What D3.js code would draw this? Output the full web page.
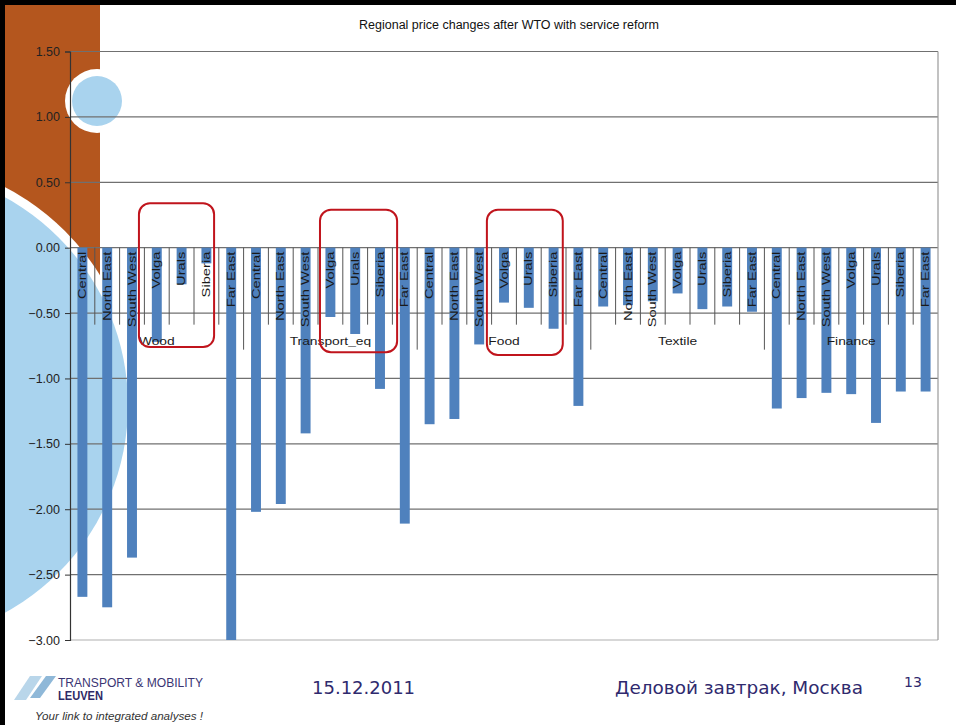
<!DOCTYPE html>
<html>
<head>
<meta charset="utf-8">
<script src="https://cdn.jsdelivr.net/npm/d3@7"></script>
<style>
  body { margin: 0; background: #fff; }
  svg { display: block; font-family: "Liberation Sans", Arial, sans-serif; }
</style>
</head>
<body>
<div id="chart"></div>
<script>
// data
var sectors = ["Wood", "Transport_eq", "Food", "Textile", "Finance"];
var regions = ["Central", "North East", "South West", "Volga", "Urals", "Siberia", "Far East"];
var wood      = [-2.67, -2.75, -2.37, -0.72, -0.28, -0.12, -3.00];
var transport = [-2.02, -1.96, -1.42, -0.53, -0.66, -1.08, -2.11];
var food      = [-1.35, -1.31, -0.74, -0.42, -0.46, -0.62, -1.21];
var textile   = [-0.45, -0.44, -0.41, -0.35, -0.47, -0.45, -0.49];
var finance   = [-1.23, -1.15, -1.11, -1.12, -1.34, -1.10, -1.10];
var yTicks = [1.5, 1.0, 0.5, 0, -0.5, -1.0, -1.5, -2.0, -2.5, -3.0];
// highlighted groups, in category units (from, to) and value units (top, bottom)
var boxes = [[2.78, 5.81, 0.34, -0.76], [10.08, 13.19, 0.29, -0.80], [16.81, 19.87, 0.29, -0.82]];

var width = 956, height = 725;
var left = 70, right = 938;

var values = [wood, transport, food, textile, finance];
var rows = [];
sectors.forEach(function(s, si) {
    regions.forEach(function(r, ri) {
        rows.push({ key: s + "|" + r, sector: s, region: r, value: values[si][ri] });
    });
});

var svg = d3.select("#chart").append("svg")
    .attr("width", width)
    .attr("height", height);

// slide decoration
var deco = svg.append("g");
deco.append("rect").attr("x", 5).attr("y", 5).attr("width", 95).attr("height", 300).attr("fill", "#b4561e");
deco.append("circle").attr("cx", -109).attr("cy", 405).attr("r", 246).attr("fill", "#fff");
deco.append("circle").attr("cx", -109).attr("cy", 405).attr("r", 237).attr("fill", "#a9d3ee");
deco.append("circle").attr("cx", 97).attr("cy", 101).attr("r", 32).attr("fill", "#fff");
deco.append("circle").attr("cx", 97).attr("cy", 101).attr("r", 25).attr("fill", "#a9d3ee");
deco.append("rect").attr("x", 0).attr("y", 0).attr("width", 5).attr("height", height).attr("fill", "#000");
deco.append("rect").attr("x", 0).attr("y", 0).attr("width", width).attr("height", 5).attr("fill", "#000");

var x = d3.scaleBand()
    .domain(rows.map(function(d) { return d.key; }))
    .range([left, right])
    .paddingInner(0.6)
    .paddingOuter(0.3);
var step = x.step();
var xc = d3.scaleLinear().domain([0, rows.length]).range([left, right]);

var y = d3.scaleLinear().domain([1.5, -3]).range([51.5, 640]);

var g = svg.append("g");

// title
g.append("text")
    .attr("x", 509).attr("y", 29)
    .attr("text-anchor", "middle")
    .attr("font-size", 12.5)
    .attr("fill", "#111")
    .text("Regional price changes after WTO with service reform");

// gridlines
g.selectAll("line.grid").data(yTicks).enter().append("line")
    .attr("class", "grid")
    .attr("x1", left).attr("x2", right)
    .attr("y1", function(d) { return y(d); })
    .attr("y2", function(d) { return y(d); })
    .attr("stroke", function(d) { return d == -3 ? "#b0b0b0" : "#707070"; })
    .attr("stroke-width", 1.2);

// plot right border
g.append("line")
    .attr("x1", right).attr("x2", right)
    .attr("y1", y(1.5)).attr("y2", y(-3))
    .attr("stroke", "#999").attr("stroke-width", 1.2);

// y axis
var yAxis = d3.axisLeft(y).tickValues(yTicks).tickSize(5).tickFormat(d3.format(".2f"));
var ya = g.append("g").attr("transform", "translate(" + left + ",0)").call(yAxis);
ya.select(".domain").attr("stroke", "#333").attr("stroke-width", 1.2);
ya.selectAll(".tick line").attr("stroke", "#333");
ya.selectAll(".tick text")
    .attr("x", -10)
    .attr("font-size", 12.5)
    .attr("font-family", "Liberation Sans, Arial, sans-serif")
    .attr("fill", "#222");

// bars
g.selectAll("rect.bar").data(rows).enter().append("rect")
    .attr("class", "bar")
    .attr("x", function(d) { return x(d.key); })
    .attr("width", x.bandwidth())
    .attr("y", function(d) { return y(Math.max(0, d.value)); })
    .attr("height", function(d) { return Math.abs(y(d.value) - y(0)); })
    .attr("fill", "#4f81bd");

// category separators
var y0 = y(0);
g.selectAll("line.sep").data(d3.range(1, rows.length)).enter().append("line")
    .attr("class", "sep")
    .attr("x1", function(i) { return xc(i); })
    .attr("x2", function(i) { return xc(i); })
    .attr("y1", y0)
    .attr("y2", function(i) { return i % 7 == 0 ? y0 + 102 : y0 + 77; })
    .attr("stroke", "#555")
    .attr("stroke-width", 1);

// region labels
g.selectAll("text.region").data(rows).enter().append("text")
    .attr("class", "region")
    .attr("transform", function(d) {
        return "translate(" + (x(d.key) + x.bandwidth() / 2) + "," + (y0 + 4) + ") rotate(-90) scale(1.4,1)";
    })
    .attr("text-anchor", "end")
    .attr("dy", "0.35em")
    .attr("font-size", 10.5)
    .attr("fill", "#1a1a1a")
    .text(function(d) { return d.region; });

// sector labels
g.selectAll("text.sector").data(sectors).enter().append("text")
    .attr("class", "sector")
    .attr("transform", function(d, i) {
        return "translate(" + xc(i * 7 + 3.5) + "," + (y0 + 97) + ") scale(1.2,1)";
    })
    .attr("text-anchor", "middle")
    .attr("font-size", 11.5)
    .attr("fill", "#1a1a1a")
    .text(function(d) { return d; });

// red highlight boxes
g.selectAll("rect.box").data(boxes).enter().append("rect")
    .attr("class", "box")
    .attr("x", function(b) { return xc(b[0]); })
    .attr("width", function(b) { return xc(b[1]) - xc(b[0]); })
    .attr("y", function(b) { return y(b[2]); })
    .attr("height", function(b) { return y(b[3]) - y(b[2]); })
    .attr("rx", 11)
    .attr("fill", "none")
    .attr("stroke", "#c0141c")
    .attr("stroke-width", 2);

// footer
var f = svg.append("g");
f.append("polygon").attr("points", "14,700 30,676 42,676 26,700").attr("fill", "#b9d6ea");
f.append("polygon").attr("points", "30,698 46,676 56,676 40,698").attr("fill", "#8fb8d8");
f.append("text").attr("x", 58).attr("y", 687)
    .attr("font-family", "Liberation Sans Narrow, Arial Narrow, Liberation Sans, sans-serif")
    .attr("font-size", 12.5).attr("fill", "#3a3573")
    .attr("textLength", 145).attr("lengthAdjust", "spacingAndGlyphs")
    .text("TRANSPORT & MOBILITY");
f.append("text").attr("x", 58).attr("y", 700)
    .attr("font-family", "Liberation Sans Narrow, Arial Narrow, Liberation Sans, sans-serif")
    .attr("font-size", 12.5).attr("font-weight", "bold").attr("fill", "#2e2a66")
    .attr("textLength", 45).attr("lengthAdjust", "spacingAndGlyphs")
    .text("LEUVEN");
f.append("text").attr("x", 35).attr("y", 720)
    .attr("font-size", 11).attr("font-style", "italic").attr("fill", "#333")
    .attr("textLength", 168).attr("lengthAdjust", "spacingAndGlyphs")
    .text("Your link to integrated analyses !");
f.append("text").attr("x", 312).attr("y", 694)
    .attr("font-family", "DejaVu Sans, Verdana, sans-serif")
    .attr("font-size", 18).attr("fill", "#2f2a6e")
    .text("15.12.2011");
f.append("text").attr("x", 615).attr("y", 694)
    .attr("font-family", "DejaVu Sans, Verdana, sans-serif")
    .attr("font-size", 18).attr("fill", "#2f2a6e")
    .attr("textLength", 248).attr("lengthAdjust", "spacingAndGlyphs")
    .text("Деловой завтрак, Москва");
f.append("text").attr("x", 904).attr("y", 687)
    .attr("font-family", "DejaVu Sans, Verdana, sans-serif")
    .attr("font-size", 14).attr("fill", "#2f2a6e")
    .text("13");
</script>
</body>
</html>
